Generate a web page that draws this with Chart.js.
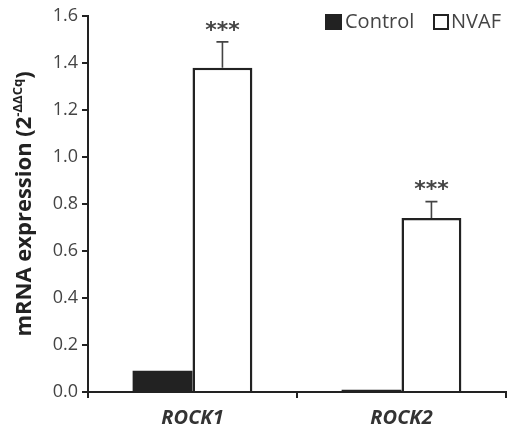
<!DOCTYPE html>
<html>
<head>
<meta charset="utf-8">
<script src="https://cdn.jsdelivr.net/npm/chart.js@4.4.0/dist/chart.umd.min.js"></script>
<style>
  html, body { margin: 0; padding: 0; background: #fff; }
  #wrap { width: 507px; height: 428px; }
</style>
</head>
<body>
<div id="wrap"><canvas id="chart"></canvas></div>
<script>
// data
const genes = ['ROCK1', 'ROCK2'];
const controlValues = [0.09, 0.01];
const nvafValues = [1.38, 0.74];
const nvafErrors = [0.11, 0.07];
const yTicks = [0, 0.2, 0.4, 0.6, 0.8, 1.0, 1.2, 1.4, 1.6];
const stars = ['***', '***'];

const ink = '#222';
const textGray = '#444';

// error bars + significance stars on top of NVAF bars
const errorBars = {
  id: 'errorBars',
  afterDatasetsDraw(chart) {
    const ctx = chart.ctx;
    const y = chart.scales.y;
    const meta = chart.getDatasetMeta(1);
    ctx.save();
    meta.data.forEach((bar, i) => {
      const top = y.getPixelForValue(nvafValues[i] + nvafErrors[i]);
      ctx.strokeStyle = '#444';
      ctx.lineWidth = 1.6;
      ctx.beginPath();
      ctx.moveTo(bar.x, bar.y);
      ctx.lineTo(bar.x, top);
      ctx.moveTo(bar.x - 6, top);
      ctx.lineTo(bar.x + 6, top);
      ctx.stroke();
      ctx.fillStyle = textGray;
      ctx.font = 'bold 22px "DejaVu Sans"';
      ctx.textAlign = 'center';
      ctx.textBaseline = 'middle';
      ctx.fillText(stars[i], bar.x, top - 11);
    });
    ctx.restore();
  }
};

// y title with superscript, and the legend
const extras = {
  id: 'extras',
  afterDraw(chart) {
    const ctx = chart.ctx;
    ctx.save();
    // y axis title
    ctx.translate(25, 204);
    ctx.rotate(-Math.PI / 2);
    ctx.fillStyle = ink;
    ctx.textBaseline = 'middle';
    const main = 'mRNA expression (2';
    const sup = '-ΔΔCq';
    const close = ')';
    ctx.font = 'bold 22px "Open Sans"';
    const w1 = ctx.measureText(main).width;
    const w3 = ctx.measureText(close).width;
    ctx.font = 'bold 13px "Open Sans"';
    const w2 = ctx.measureText(sup).width;
    let x = -(w1 + w2 + w3) / 2;
    ctx.textAlign = 'left';
    ctx.font = 'bold 22px "Open Sans"';
    ctx.fillText(main, x, 0);
    x += w1;
    ctx.font = 'bold 13px "Open Sans"';
    ctx.fillText(sup, x, -7);
    x += w2;
    ctx.font = 'bold 22px "Open Sans"';
    ctx.fillText(close, x, 0);
    ctx.restore();

    // legend
    ctx.save();
    ctx.font = '20px "Open Sans"';
    ctx.textBaseline = 'middle';
    ctx.textAlign = 'left';
    ctx.fillStyle = ink;
    ctx.fillRect(325, 14, 17, 16);
    ctx.fillStyle = textGray;
    ctx.fillText('Control', 345, 22);
    ctx.strokeStyle = ink;
    ctx.lineWidth = 2;
    ctx.strokeRect(434, 15, 14, 14);
    ctx.fillText('NVAF', 451, 22);
    ctx.restore();
  }
};

new Chart(document.getElementById('chart'), {
  type: 'bar',
  data: {
    labels: genes,
    datasets: [
      {
        label: 'Control',
        data: controlValues,
        backgroundColor: ink,
        borderColor: ink,
        borderWidth: 0,
        categoryPercentage: 0.573,
        barPercentage: 1
      },
      {
        label: 'NVAF',
        data: nvafValues,
        backgroundColor: '#fff',
        borderColor: ink,
        borderWidth: { top: 2.5, left: 2.5, right: 2.5, bottom: 0 },
        categoryPercentage: 0.573,
        barPercentage: 1
      }
    ]
  },
  options: {
    responsive: true,
    maintainAspectRatio: false,
    animation: false,
    layout: { padding: { top: 16, right: 1, left: 0, bottom: 0 } },
    plugins: {
      legend: { display: false },
      tooltip: { enabled: false }
    },
    scales: {
      x: {
        grid: {
          drawOnChartArea: false,
          tickLength: 6,
          color: ink,
          lineWidth: 2,
          offset: true
        },
        border: { color: ink, width: 2 },
        ticks: {
          color: '#333',
          padding: 8,
          font: { family: '"Open Sans"', size: 20, weight: 'bold', style: 'italic' }
        },
        afterFit(scale) { scale.height = 36; }
      },
      y: {
        min: 0,
        max: 1.6,
        afterBuildTicks(scale) {
          scale.ticks = yTicks.map(v => ({ value: v }));
        },
        grid: {
          drawOnChartArea: false,
          tickLength: 6,
          color: ink,
          lineWidth: 2
        },
        border: { color: ink, width: 2 },
        ticks: {
          color: textGray,
          padding: 4,
          font: { family: '"Open Sans"', size: 18 },
          callback: v => v.toFixed(1)
        },
        afterFit(scale) { scale.width = 88; }
      }
    }
  },
  plugins: [errorBars, extras]
});
</script>
</body>
</html>
